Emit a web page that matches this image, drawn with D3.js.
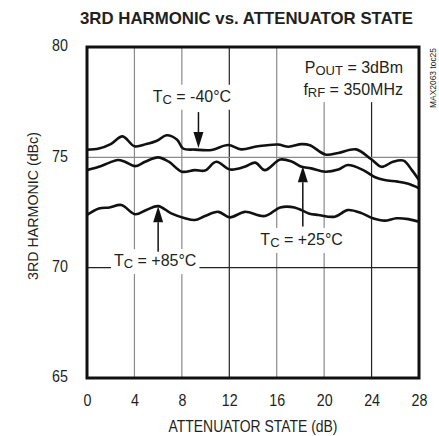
<!DOCTYPE html>
<html>
<head>
<meta charset="utf-8">
<script src="https://cdn.jsdelivr.net/npm/d3@7"></script>
<style>
  body { margin: 0; background: #fff; }
  svg { display: block; }
  text { font-family: "Liberation Sans", Arial, sans-serif; fill: #231f20; }
</style>
</head>
<body>
<svg id="chart"></svg>
<script>
// attenuator state (dB) and 3rd harmonic (dBc)
let xTicks = [0, 4, 8, 12, 16, 20, 24, 28];
let yTicks = [65, 70, 75, 80];

let state40 = [0, 1, 2, 3, 4, 5, 5.9, 6.7, 7.6, 8.1, 9.1, 10.5, 11.9, 13.0, 14.4, 16.1, 17.0, 18.1, 18.8, 20.1, 21.2, 22.7, 24.0, 24.85, 25.8, 26.7, 27.4, 28];
let harm40 = [75.35, 75.4, 75.6, 75.95, 75.5, 75.6, 75.75, 76.0, 75.8, 75.4, 75.35, 75.33, 75.56, 75.36, 75.5, 75.58, 75.48, 75.6, 75.55, 75.13, 75.2, 75.36, 74.9, 74.57, 74.8, 74.85, 74.42, 73.97];

let state25 = [0, 1, 1.9, 2.6, 3.2, 4.05, 4.9, 6.0, 6.9, 8.0, 9.1, 9.95, 10.9, 12.06, 13.3, 14.2, 15.0, 16.3, 17.3, 18.1, 18.9, 20.1, 21.2, 22.0, 23.3, 24.3, 25.1, 26.2, 27.1, 28];
let harm25 = [74.42, 74.57, 74.76, 74.88, 74.8, 74.6, 74.8, 75.0, 74.8, 74.35, 74.42, 74.4, 74.8, 74.45, 74.57, 74.76, 74.42, 74.9, 74.8, 74.57, 74.5, 74.35, 74.45, 74.65, 74.42, 74.1, 73.97, 73.9, 73.8, 73.6];

let state85 = [0, 1, 1.9, 2.9, 4.05, 5.0, 6.0, 7.1, 8.26, 9.1, 9.95, 11.07, 12.06, 13.3, 15.0, 16.3, 17.5, 18.7, 19.5, 20.9, 22.0, 23.2, 24.1, 25.1, 26.1, 27.1, 28];
let harm85 = [72.39, 72.68, 72.73, 72.84, 72.42, 72.61, 72.79, 72.46, 72.24, 72.16, 72.34, 72.53, 72.28, 72.53, 72.34, 72.73, 72.73, 72.46, 72.39, 72.31, 72.61, 72.46, 72.24, 72.13, 72.24, 72.2, 72.08];

// temperature labels: text position and arrow (x, tail, tip) in data units
let tempLabels = ["-40°C", "+25°C", "+85°C"];
let labelX = [8.85, 18.1, 5.75];
let labelY = [77.52, 71.03, 70.07];
let arrowX = [9.4, 18.2, 6.0];
let arrowTail = [77.05, 71.86, 70.72];
let arrowTip = [75.42, 74.6, 72.78];

let width = 439, height = 436;
let margin = { top: 47, right: 20, bottom: 58, left: 87 };

let svg = d3.select('#chart').attr('width', width).attr('height', height);

let x = d3.scaleLinear([0, 28], [margin.left, width - margin.right]);
let y = d3.scaleLinear([65, 80], [height - margin.bottom, margin.top]);

let series = [
    d3.zip(state40, harm40),
    d3.zip(state25, harm25),
    d3.zip(state85, harm85)
];

// squeeze a text to look like the condensed face of the original
function narrow(sel, k) {
    sel.each(function () {
        let w = this.getComputedTextLength();
        d3.select(this).attr('textLength', w * k).attr('lengthAdjust', 'spacingAndGlyphs');
    });
}

// grid
svg.append('g')
    .selectAll('line')
    .data(xTicks.slice(1, -1))
    .enter().append('line')
    .attr('x1', d => x(d)).attr('x2', d => x(d))
    .attr('y1', y(65)).attr('y2', y(80))
    .attr('stroke', d => d % 12 === 0 ? '#222' : '#8a8a8a')
    .attr('stroke-width', 1.2);

svg.append('g')
    .selectAll('line')
    .data(yTicks.slice(1, -1))
    .enter().append('line')
    .attr('x1', x(0)).attr('x2', x(28))
    .attr('y1', d => y(d)).attr('y2', d => y(d))
    .attr('stroke', d => d === 70 ? '#222' : '#8a8a8a')
    .attr('stroke-width', 1.2);

let bgLayer = svg.append('g');

// curves
let line = d3.line()
    .x(d => x(d[0]))
    .y(d => y(d[1]))
    .curve(d3.curveCatmullRom);

svg.append('g')
    .selectAll('path')
    .data(series)
    .enter().append('path')
    .attr('d', line)
    .attr('fill', 'none')
    .attr('stroke', '#111')
    .attr('stroke-width', 2.6)
    .attr('stroke-linejoin', 'round');

// arrows
let arrows = svg.append('g');
tempLabels.forEach(function (t, i) {
    let ax = x(arrowX[i]);
    let tail = y(arrowTail[i]);
    let tip = y(arrowTip[i]);
    let dir = tip > tail ? 1 : -1;
    let headLen = 16, headW = 5;
    arrows.append('line')
        .attr('x1', ax).attr('x2', ax)
        .attr('y1', tail).attr('y2', tip - dir * headLen)
        .attr('stroke', '#111').attr('stroke-width', 1.5);
    arrows.append('path')
        .attr('d', 'M' + ax + ',' + tip + 'L' + (ax - headW) + ',' + (tip - dir * headLen) + 'L' + (ax + headW) + ',' + (tip - dir * headLen) + 'Z')
        .attr('fill', '#111');
});

// labels with white boxes behind them
function addBox(node, padX, padY) {
    let b = node.getBBox();
    return bgLayer.append('rect')
        .attr('x', b.x - padX).attr('y', b.y - padY)
        .attr('width', b.width + 2 * padX).attr('height', b.height + 2 * padY)
        .attr('fill', '#fff');
}

let labels = svg.append('g');
tempLabels.forEach(function (t, i) {
    let txt = labels.append('text')
        .attr('x', x(labelX[i]))
        .attr('y', y(labelY[i]))
        .attr('text-anchor', 'middle')
        .attr('font-size', 16);
    txt.append('tspan').text('T');
    txt.append('tspan').attr('font-size', 13).attr('dy', 2).text('C');
    txt.append('tspan').attr('dy', -2).text(' = ' + t);
    addBox(txt.node(), 3, 3);
});

let cond = labels.append('g').attr('text-anchor', 'end').attr('font-size', 16);
let p = cond.append('text').attr('x', x(26.65)).attr('y', y(78.83));
p.append('tspan').text('P');
p.append('tspan').attr('font-size', 13).attr('dy', 2).text('OUT');
p.append('tspan').attr('dy', -2).text(' = 3dBm');
let f = cond.append('text').attr('x', x(26.65)).attr('y', y(77.82));
f.append('tspan').text('f');
f.append('tspan').attr('font-size', 13).attr('dy', 2).text('RF');
f.append('tspan').attr('dy', -2).text(' = 350MHz');
addBox(cond.node(), 4, 3)
    .attr('y', y(80)).attr('height', y(77.82) + 7 - y(80));

// frame
svg.append('rect')
    .attr('x', x(0)).attr('y', y(80))
    .attr('width', x(28) - x(0)).attr('height', y(65) - y(80))
    .attr('fill', 'none')
    .attr('stroke', '#111')
    .attr('stroke-width', 3);

// axes
let xAxis = svg.append('g')
    .attr('transform', 'translate(0,' + y(65) + ')')
    .call(d3.axisBottom(x).tickValues(xTicks).tickSize(0).tickPadding(16));
xAxis.select('.domain').remove();
xAxis.selectAll('text').attr('font-size', 17).attr('fill', '#231f20');
narrow(xAxis.selectAll('text'), 0.84);
xAxis.attr('font-family', null);

let yAxis = svg.append('g')
    .attr('transform', 'translate(' + (x(0) - 19) + ',0)')
    .call(d3.axisLeft(y).tickValues(yTicks).tickSize(0).tickPadding(0));
yAxis.select('.domain').remove();
yAxis.selectAll('text').attr('font-size', 17).attr('fill', '#231f20').attr('dy', '0.22em');
narrow(yAxis.selectAll('text'), 0.84);
yAxis.attr('font-family', null);

// titles
svg.append('text')
    .attr('x', 80).attr('y', 24)
    .attr('font-size', 17).attr('font-weight', 'bold')
    .attr('textLength', 333).attr('lengthAdjust', 'spacingAndGlyphs')
    .text('3RD HARMONIC vs. ATTENUATOR STATE');

svg.append('text')
    .attr('x', (x(0) + x(28)) / 2).attr('y', 432)
    .attr('text-anchor', 'middle')
    .attr('font-size', 17)
    .attr('textLength', 169).attr('lengthAdjust', 'spacingAndGlyphs')
    .text('ATTENUATOR STATE (dB)');

svg.append('text')
    .attr('transform', 'translate(38,206) rotate(-90)')
    .attr('text-anchor', 'middle')
    .attr('font-size', 15)
    .attr('textLength', 148).attr('lengthAdjust', 'spacingAndGlyphs')
    .text('3RD HARMONIC (dBc)');

svg.append('text')
    .attr('transform', 'translate(436,48) rotate(-90)')
    .attr('text-anchor', 'end')
    .attr('font-size', 9)
    .attr('textLength', 60).attr('lengthAdjust', 'spacingAndGlyphs')
    .text('MAX2063 toc25');
</script>
</body>
</html>
